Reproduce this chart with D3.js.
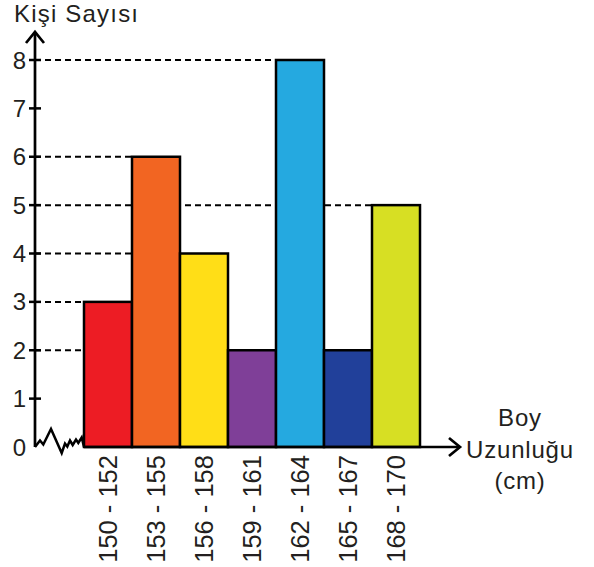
<!DOCTYPE html>
<html><head><meta charset="utf-8">
<script src="https://cdn.jsdelivr.net/npm/d3@7"></script>
<style>body{margin:0;background:#fff}svg{display:block}text{font-family:"Liberation Sans",Arial,sans-serif;fill:#231F20}</style>
</head><body>
<svg id="c" width="594" height="567"></svg>
<script>
const categories = ["150 - 152","153 - 155","156 - 158","159 - 161","162 - 164","165 - 167","168 - 170"];
const values = [3,6,4,2,8,2,5];
const colors = ["#ED1C24","#F26522","#FFDE17","#7F3F98","#25A9E0","#21409A","#D7DF23"];
const yTicks = [0,1,2,3,4,5,6,7,8];

const svg = d3.select("#c");
const x = d3.scaleBand().domain(categories).range([84,420]).padding(0);
const y = d3.scaleLinear().domain([0,8]).range([447,60]);
const axisX = 35;

// dashed guide lines
const dashVals = Array.from(new Set(values));
dashVals.forEach(v=>{
  const idx = values.indexOf(v);
  const x2 = x(categories[idx]);
  svg.append("line").attr("x1",axisX).attr("x2",x2).attr("y1",y(v)).attr("y2",y(v))
    .attr("stroke","#000").attr("stroke-width",2).attr("stroke-dasharray","6,4");
});

// bars
svg.selectAll("rect.bar").data(values).enter().append("rect")
  .attr("x",(d,i)=>x(categories[i])).attr("width",x.bandwidth())
  .attr("y",d=>y(d)).attr("height",d=>y(0)-y(d))
  .attr("fill",(d,i)=>colors[i]).attr("stroke","#000").attr("stroke-width",2.5);

// axes lines
svg.append("line").attr("x1",axisX).attr("x2",axisX).attr("y1",y(0)).attr("y2",32).attr("stroke","#000").attr("stroke-width",2.7);
svg.append("path").attr("d",`M${axisX-9},${43} L${axisX},${32} L${axisX+9},${43}`).attr("fill","none").attr("stroke","#000").attr("stroke-width",2.7);
svg.append("line").attr("x1",84).attr("x2",460).attr("y1",y(0)).attr("y2",y(0)).attr("stroke","#000").attr("stroke-width",2.7);
svg.append("path").attr("d",`M${449},${y(0)-9} L${460},${y(0)} L${449},${y(0)+9}`).attr("fill","none").attr("stroke","#000").attr("stroke-width",2.7);

// zigzag break
const zig = [[35,447],[40,440.5],[43.3,444.5],[51,429],[61.7,453],[65,443.5],[67.3,446.5],[70,440.5],[72.7,445],[76,439.5],[78.3,443],[81.7,437.5],[84,447]];
svg.append("path").attr("d",d3.line()(zig)).attr("fill","none").attr("stroke","#000").attr("stroke-width",2.5).attr("stroke-linejoin","miter");

// y ticks
yTicks.forEach(t=>{
  if(t>0) svg.append("line").attr("x1",29).attr("x2",41).attr("y1",y(t)).attr("y2",y(t)).attr("stroke","#000").attr("stroke-width",2.5);
  svg.append("text").attr("x",26).attr("y",y(t)+8.5).attr("text-anchor","end").attr("font-size",24).text(t);
});

// x labels
categories.forEach(c=>{
  const cx = x(c)+x.bandwidth()/2;
  svg.append("text").attr("transform",`translate(${cx+9},455) rotate(-90)`).attr("text-anchor","end").attr("font-size",25.5).text(c);
});

// titles
svg.append("text").attr("x",14).attr("y",22).attr("font-size",24).attr("letter-spacing",1.2).text("Kişi Sayısı");
svg.append("text").attr("x",520).attr("y",425.5).attr("text-anchor","middle").attr("font-size",24).attr("letter-spacing",0.8).text("Boy");
svg.append("text").attr("x",520).attr("y",457.5).attr("text-anchor","middle").attr("font-size",24).attr("letter-spacing",0.8).text("Uzunluğu");
svg.append("text").attr("x",520).attr("y",488.5).attr("text-anchor","middle").attr("font-size",24).attr("letter-spacing",0.8).text("(cm)");
</script>
</body></html>
